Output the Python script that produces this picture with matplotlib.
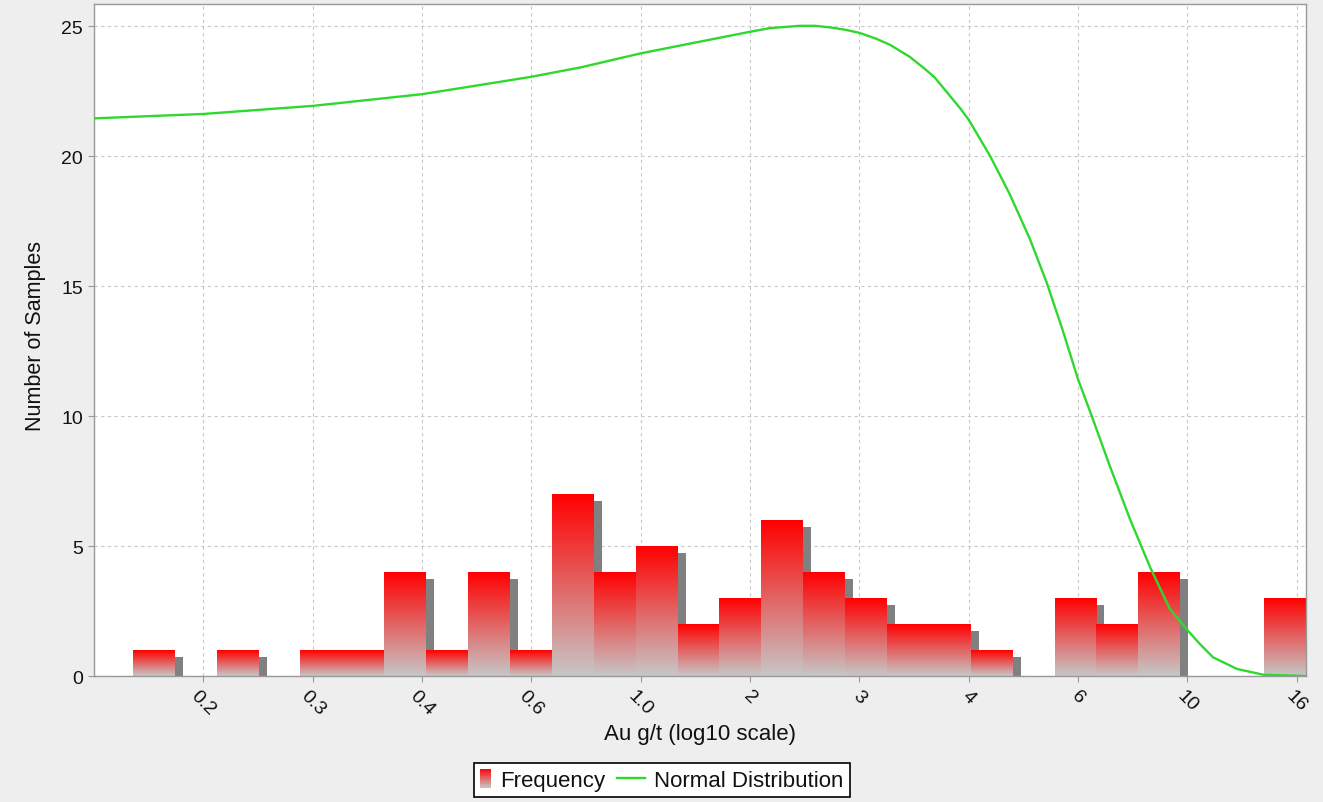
import numpy as np
import matplotlib
matplotlib.use("Agg")
import matplotlib.pyplot as plt
from matplotlib import transforms
from matplotlib.legend_handler import HandlerBase
from matplotlib.patches import Rectangle
from matplotlib.lines import Line2D

# ---------------- data ----------------
counts = [1, 0, 1, 0, 1, 1, 4, 1, 4, 1, 7, 4, 5, 2, 3, 6, 4, 3, 2, 2, 1, 0, 3, 2, 4, 0, 0, 3]
log_au_min = -0.929   # log10 of smallest sample
log_au_max = 1.217    # log10 of largest sample

tick_log = [-0.8, -0.6, -0.4, -0.2, 0.0, 0.2, 0.4, 0.6, 0.8, 1.0, 1.2]
tick_labels = ["0.2", "0.3", "0.4", "0.6", "1.0", "2", "3", "4", "6", "10", "16"]
y_ticks = [0, 5, 10, 15, 20, 25]

curve_x = [-1.0, -0.8, -0.6, -0.4, -0.28, -0.2, -0.11, 0.0, 0.108, 0.2, 0.236, 0.291,
           0.319, 0.346, 0.374, 0.4, 0.43, 0.456, 0.492, 0.52, 0.538, 0.584, 0.6, 0.639,
           0.675, 0.712, 0.743, 0.772, 0.8, 0.825, 0.858, 0.895, 0.932, 0.968, 1.0,
           1.023, 1.047, 1.091, 1.139, 1.2, 1.217]
curve_y = [21.45, 21.62, 21.93, 22.38, 22.78, 23.05, 23.41, 23.95, 24.40, 24.78, 24.92, 25.01,
           25.01, 24.95, 24.86, 24.74, 24.52, 24.28, 23.82, 23.35, 23.02, 21.85, 21.40, 20.01,
           18.54, 16.81, 15.12, 13.30, 11.42, 10.01, 8.09, 6.04, 4.18, 2.58, 1.77,
           1.23, 0.72, 0.27, 0.05, 0.01, 0.0]

# ---------------- style ----------------
FONT = ["Liberation Sans", "DejaVu Sans"]
plt.rcParams["font.family"] = FONT
TOP_RGB = np.array([1.0, 0.0, 0.0])
BOT_RGB = np.array([0.78, 0.78, 0.78])
GREEN = "#2fd82f"
TEXT = "#111111"

edges = np.linspace(log_au_min, log_au_max, len(counts) + 1)
bin_w = edges[1] - edges[0]

fig = plt.figure(figsize=(13.23, 8.03), dpi=100, facecolor="#eeeeee")
ax = fig.add_axes([0.0711, 0.1569, 0.916, 0.8369])
ax.set_facecolor("white")

# shadows (offset by a few pixels right/down)
shadow_tr = transforms.offset_copy(ax.transData, fig=fig, x=8, y=-7, units="dots")
ax.bar(edges[:-1], counts, width=bin_w, align="edge", color="#808080",
       linewidth=0, transform=shadow_tr, zorder=1)

# bars with vertical gradient
bars = ax.bar(edges[:-1], counts, width=bin_w, align="edge",
              facecolor="none", edgecolor="none", zorder=2)
t = np.linspace(0, 1, 256)[:, None]
grad = (TOP_RGB[None, :] * (1 - t) + BOT_RGB[None, :] * t)[:, None, :]
for b in bars:
    h = b.get_height()
    if h > 0:
        x0 = b.get_x()
        ax.imshow(grad, extent=(x0, x0 + b.get_width(), 0, h), aspect="auto",
                  origin="upper", interpolation="bilinear", zorder=2)

ax.plot(curve_x, curve_y, color=GREEN, lw=1.7, zorder=3)

ax.set_xlim(-1.0, log_au_max)
ax.set_ylim(0, 25.85)
ax.set_xticks(tick_log)
ax.set_xticklabels(tick_labels, rotation=-45, ha="center")
ax.set_yticks(y_ticks)
ax.grid(True, color="#c8c8c8", linestyle=(0, (3, 3)), linewidth=0.8)
ax.set_axisbelow(True)
for s in ax.spines.values():
    s.set_color("#999999")
    s.set_linewidth(1.0)
ax.tick_params(axis="both", length=4, width=0.8, color="#999999",
               labelsize=14, labelcolor=TEXT)
ax.tick_params(axis="y", pad=3.8)
ax.tick_params(axis="x", pad=4)

ax.set_xlabel("Au g/t (log10 scale)", fontsize=16, color=TEXT)
ax.set_ylabel("Number of Samples", fontsize=15.5, color=TEXT)
ax.xaxis.set_label_coords(0.5, -0.070)
ax.yaxis.set_label_coords(-0.040, 0.507)


# ---------------- legend ----------------
class GradHandler(HandlerBase):
    def create_artists(self, legend, orig_handle, xdescent, ydescent, width, height,
                       fontsize, trans):
        rw, rh = 7.9, 13.7
        x0 = -xdescent + width - rw
        ymid = -ydescent + height / 2
        y0 = ymid - rh / 2
        n = 24
        arts = []
        for i in range(n):
            f = (i + 0.5) / n
            col = TOP_RGB * (1 - f) + BOT_RGB * f
            r = Rectangle((x0, y0 + rh * (1 - (i + 1) / n)), rw, rh / n,
                          facecolor=col, edgecolor="none", transform=trans)
            arts.append(r)
        return arts


class LongLineHandler(HandlerBase):
    def create_artists(self, legend, orig_handle, xdescent, ydescent, width, height,
                       fontsize, trans):
        ext = 12.2
        ymid = -ydescent + height / 2
        ln = Line2D([-xdescent - ext, -xdescent + width], [ymid, ymid],
                    color=GREEN, lw=1.7, transform=trans)
        return [ln]


h_freq = Rectangle((0, 0), 1, 1, facecolor="red")
h_norm = Line2D([0], [0], color=GREEN)
leg = fig.legend([h_freq, h_norm], ["Frequency", "Normal Distribution"],
                 handler_map={Rectangle: GradHandler(), Line2D: LongLineHandler()},
                 loc="center", bbox_to_anchor=(661.9 / 1323, 1 - 781.3 / 803),
                 bbox_transform=fig.transFigure, ncol=2, fontsize=16,
                 handlelength=0.5, handletextpad=0.4, columnspacing=1.29,
                 borderpad=0.3, fancybox=False, framealpha=1, edgecolor="black")
leg.get_frame().set_linewidth(1.2)
leg.get_frame().set_facecolor("white")
for txt in leg.get_texts():
    txt.set_color(TEXT)

fig.savefig("out.png", dpi=100, facecolor=fig.get_facecolor())
